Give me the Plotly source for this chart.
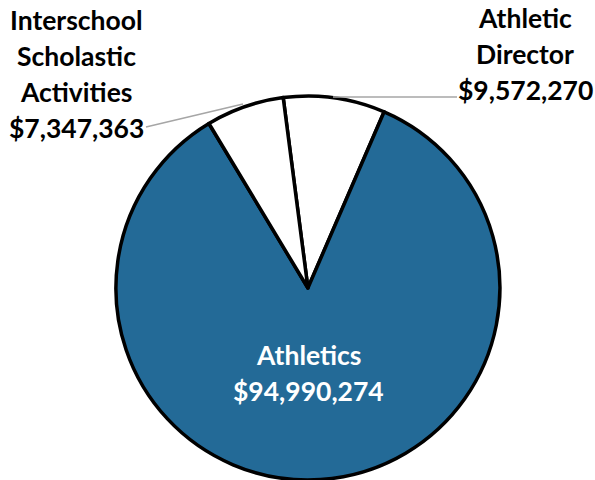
import plotly.graph_objects as go

labels = ["Athletic Director", "Athletics", "Interschool Scholastic Activities"]
values = [9572270, 94990274, 7347363]
colors = ["white", "#236a97", "white"]

fig = go.Figure(go.Pie(
    labels=labels,
    values=values,
    sort=False,
    direction="clockwise",
    rotation=-7.4,
    marker=dict(colors=colors, line=dict(color="black", width=3.5)),
    textinfo="none",
    hoverinfo="label+value",
    domain=dict(x=[0.19, 0.845], y=[0.0, 0.80]),
    showlegend=False,
))

def money(v):
    return "${:,}".format(v)

FONT = "Lato"
SPACING = 36 / 480

def add_block(lines, x, y_top, color):
    # one annotation per line so the line spacing matches the original
    for i, t in enumerate(lines):
        fig.add_annotation(
            text="<b>" + t + "</b>", x=x, y=y_top - i * SPACING,
            xref="paper", yref="paper", xanchor="center", yanchor="middle",
            showarrow=False, font=dict(family=FONT, size=26.5, color=color),
        )

add_block(["Interschool", "Scholastic", "Activities", money(values[2])], 76 / 595, 1 - 20 / 480, "black")
add_block(["Athletic", "Director", money(values[0])], 525 / 595, 1 - 18 / 480, "black")
add_block(["Athletics", money(values[1])], 308 / 595, 1 - 355 / 480, "white")

# leader lines
fig.add_shape(type="line", xref="paper", yref="paper",
              x0=146 / 595, y0=1 - 127 / 480, x1=243 / 595, y1=1 - 104 / 480,
              line=dict(color="#a6a6a6", width=1.5))
fig.add_shape(type="line", xref="paper", yref="paper",
              x0=333 / 595, y0=1 - 97 / 480, x1=457 / 595, y1=1 - 97 / 480,
              line=dict(color="#a6a6a6", width=1.5))

fig.update_layout(
    width=595, height=480,
    margin=dict(l=0, r=0, t=0, b=0),
    paper_bgcolor="white", plot_bgcolor="white",
)

# drop the browser's default body margin so the figure sits at 0,0
fig.write_html("out.html", config={"displayModeBar": False},
               post_script="document.body.style.margin='0';")
